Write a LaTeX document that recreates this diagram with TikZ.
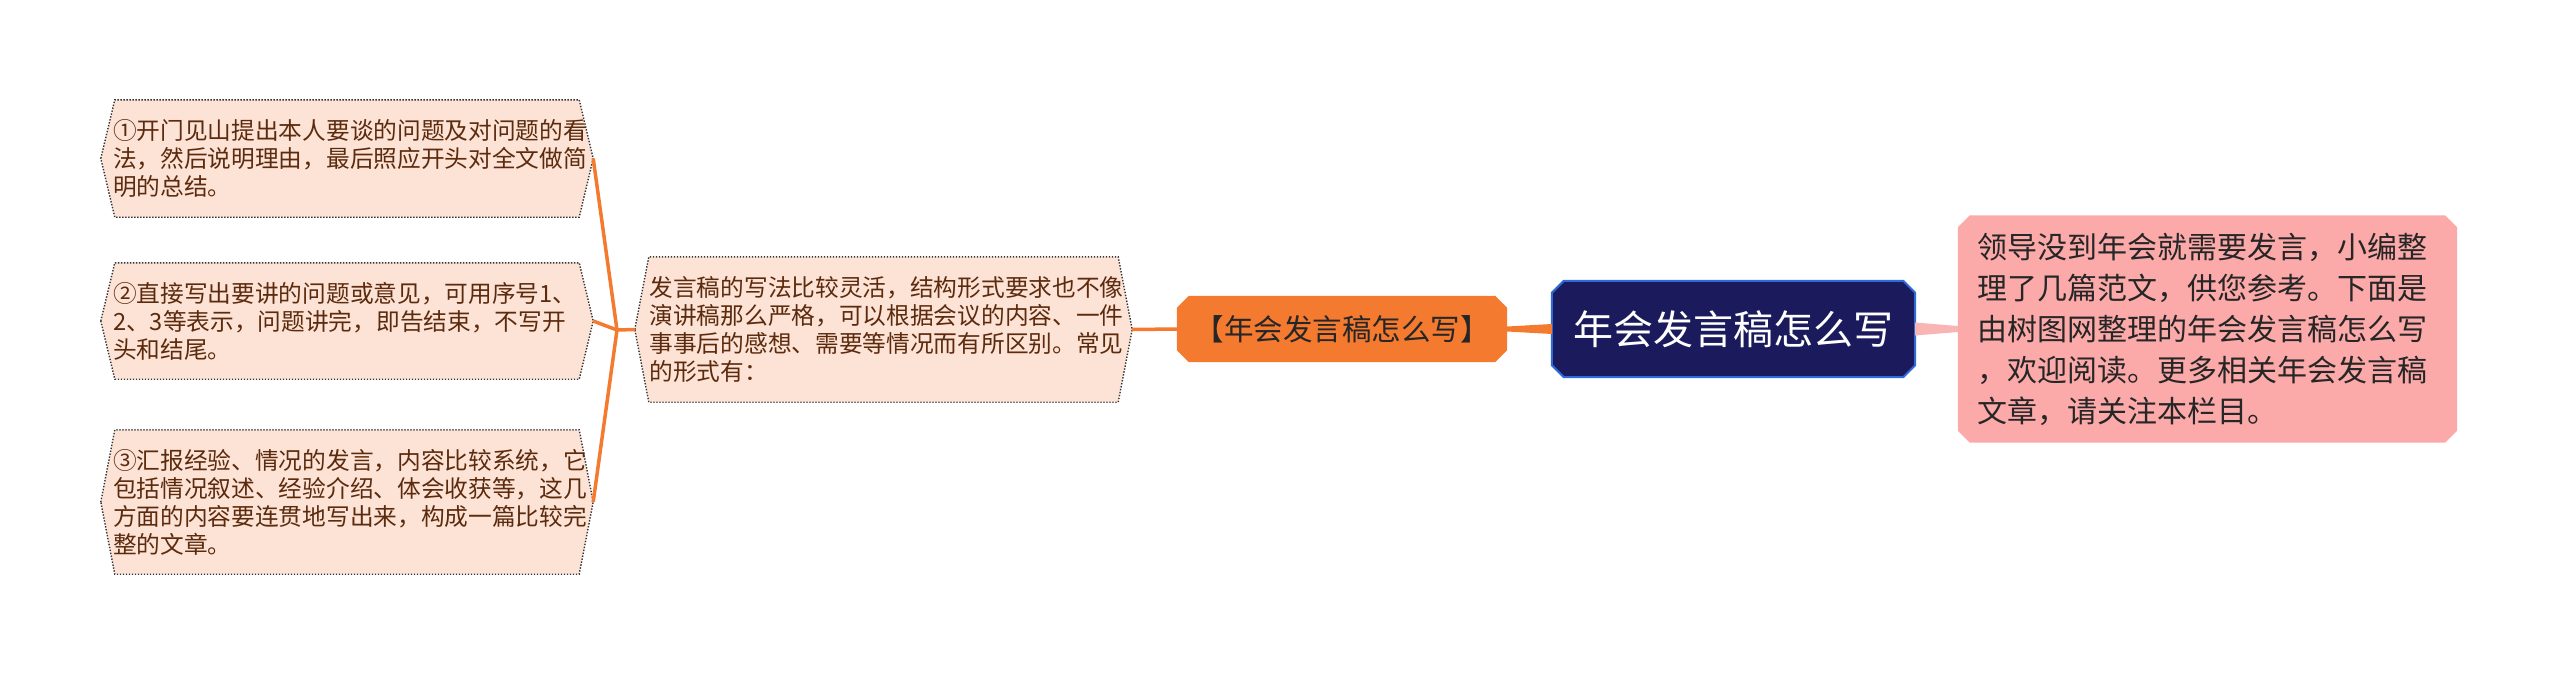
\documentclass[tikz,border=0pt]{standalone}
\usepackage{fontspec}
\setmainfont{Noto Sans CJK SC}
\usetikzlibrary{backgrounds}
\definecolor{peach}{HTML}{FDE3D6}
\definecolor{brtext}{HTML}{5C2B0E}
\definecolor{orng}{HTML}{F47A30}
\definecolor{navy}{HTML}{1B1A5C}
\definecolor{blueb}{HTML}{2E6BD6}
\definecolor{pinkf}{HTML}{FCA9A9}
\definecolor{pinkl}{HTML}{F9B4B4}
\definecolor{dtext}{HTML}{262626}
\tikzset{
  txtbox/.style={inner ysep=0pt, align=left, text=brtext, font=\fontsize{23.7}{28}\selectfont},
  hexfill/.style={fill=peach, draw=black!80, line width=1.4pt, dash pattern=on 1.4pt off 1.6pt},
  hexp/.style={insert path={(#1.west) -- ([xshift=14pt]#1.north west) -- ([xshift=-14pt]#1.north east) -- (#1.east) -- ([xshift=-14pt]#1.south east) -- ([xshift=14pt]#1.south west) -- cycle}},
  octp/.style={insert path={([xshift=12pt]#1.north west) -- ([xshift=-12pt]#1.north east) -- ([yshift=-12pt]#1.north east) -- ([yshift=12pt]#1.south east) -- ([xshift=-12pt]#1.south east) -- ([xshift=12pt]#1.south west) -- ([yshift=12pt]#1.south west) -- ([yshift=-12pt]#1.north west) -- cycle}},
  link/.style={draw=orng, line width=3.5pt},
}
\begin{document}
\begin{tikzpicture}[x=1pt,y=-1pt]
\useasboundingbox (0,0) rectangle (2560,675);
% child nodes
\node[txtbox, text width=468pt, inner xsep=12pt, minimum height=117pt] (c1) at (347,158.5)
 {①开门见山提出本人要谈的问题及对问题的看\\法，然后说明理由，最后照应开头对全文做简\\明的总结。};
\node[txtbox, text width=468pt, inner xsep=12pt, minimum height=116pt] (c2) at (347,321)
 {②直接写出要讲的问题或意见，可用序号1、\\2、3等表示，问题讲完，即告结束，不写开\\头和结尾。};
\node[txtbox, text width=468pt, inner xsep=12pt, minimum height=144pt] (c3) at (347,502)
 {③汇报经验、情况的发言，内容比较系统，它\\包括情况叙述、经验介绍、体会收获等，这几\\方面的内容要连贯地写出来，构成一篇比较完\\整的文章。};
% middle node
\node[txtbox, text width=468pt, inner xsep=14.5pt, minimum height=145pt] (m) at (883.5,329.5)
 {发言稿的写法比较灵活，结构形式要求也不像\\演讲稿那么严格，可以根据会议的内容、一件\\事事后的感想、需要等情况而有所区别。常见\\的形式有：};
% orange node
\node[minimum width=330pt, minimum height=66pt, inner sep=0pt, text=dtext, font=\fontsize{29.5}{33}\selectfont] (o) at (1342,329) {【年会发言稿怎么写】};
% root node
\node[minimum width=363pt, minimum height=96pt, inner sep=0pt, text=white, font=\fontsize{40}{44}\selectfont] (r) at (1733.5,329) {年会发言稿怎么写};
% pink node
\node[text width=460pt, inner xsep=19.5pt, minimum height=227pt, align=left, text=dtext, font=\fontsize{30}{41}\selectfont] (p) at (2207.5,329)
 {领导没到年会就需要发言，小编整\\理了几篇范文，供您参考。下面是\\由树图网整理的年会发言稿怎么写\\，欢迎阅读。更多相关年会发言稿\\文章，请关注本栏目。};
\coordinate (j) at (617,330);
\begin{scope}[on background layer]
  \path[hexfill, hexp=c1];
  \path[hexfill, hexp=c2];
  \path[hexfill, hexp=c3];
  \path[hexfill, hexp=m];
  \path[fill=orng, octp=o];
  \path[fill=navy, draw=blueb, line width=2pt, octp=r];
  \path[fill=pinkf, octp=p];
  % tapered connectors
  \fill[orng] ([yshift=2.5pt]o.east) -- ([yshift=5pt]r.west) -- ([yshift=-5pt]r.west) -- ([yshift=-2.5pt]o.east) -- cycle;
  \fill[pinkl] ([yshift=6.5pt]r.east) -- ([yshift=3pt]p.west) -- ([yshift=-3pt]p.west) -- ([yshift=-6.5pt]r.east) -- cycle;
\end{scope}
\draw[link] (m.east) -- (o.west);
\draw[link] (m.west) -- (j);
\draw[link] (j) -- (c1.east);
\draw[link] (j) -- (c2.east);
\draw[link] (j) -- (c3.east);
\end{tikzpicture}
\end{document}
